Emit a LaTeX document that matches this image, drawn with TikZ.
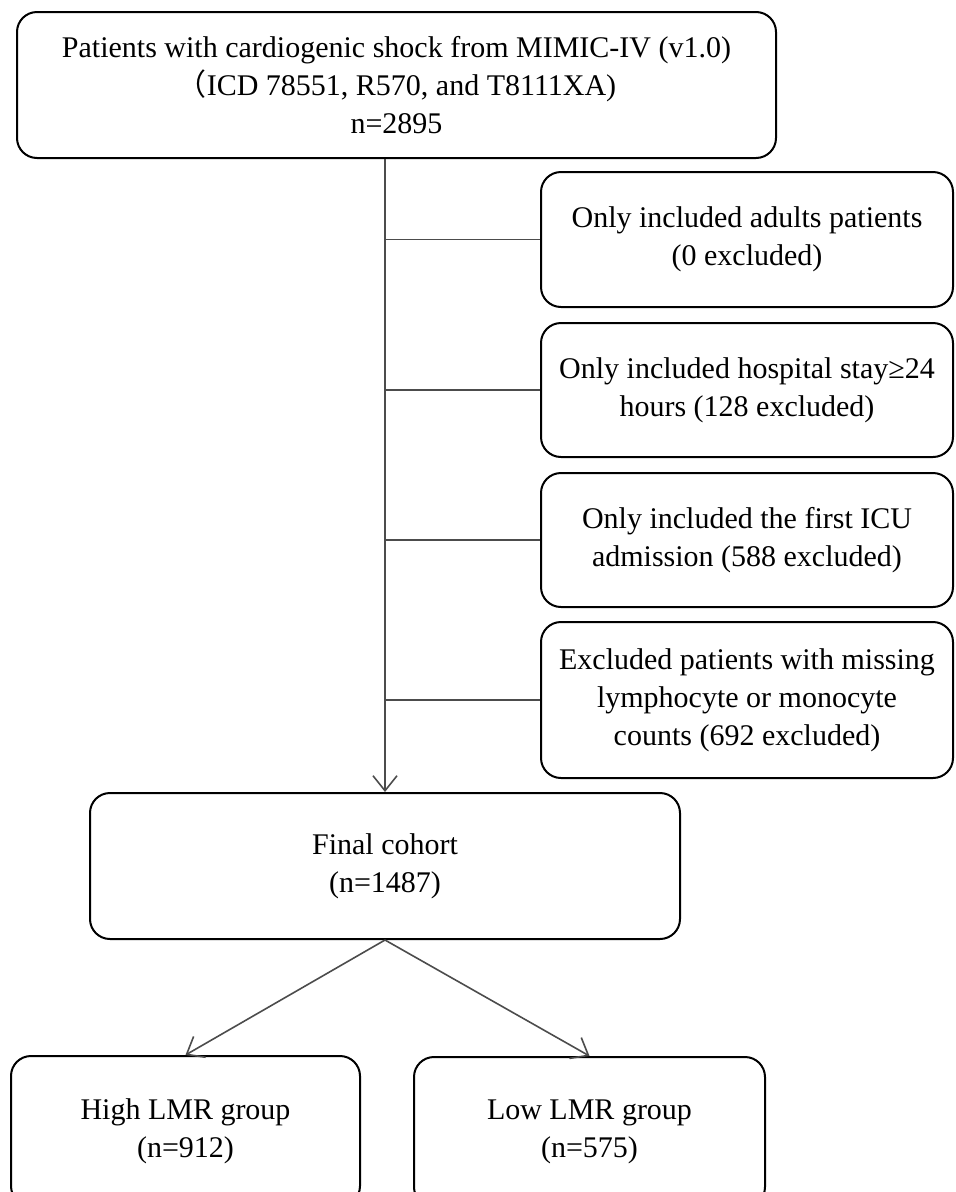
\documentclass[tikz,border=0pt]{standalone}
\usepackage{fontspec}
\setmainfont{Liberation Serif}
\newfontfamily\cjk{Noto Sans CJK SC}
\usetikzlibrary{arrows.meta}
\begin{document}
\begin{tikzpicture}[x=1pt,y=-1pt,
  flowbox/.style={draw=black,line width=2pt,rounded corners=20pt,align=center,
    font=\fontsize{30}{38}\selectfont,inner sep=0pt},
  conn/.style={draw=black!70,line width=1.6pt},
  arr/.style={conn,-{Straight Barb[length=15pt,width=24pt,line width=1.6pt]}}]
\useasboundingbox (0,0) rectangle (956,1192);
\clip (0,0) rectangle (956,1192);
\node[flowbox,minimum width=759pt,minimum height=146pt] (top) at (396.5,85)
  {Patients with cardiogenic shock from MIMIC-IV (v1.0)\\{\cjk （}ICD 78551, R570, and T8111XA)\\n=2895};
\node[flowbox,minimum width=412pt,minimum height=135pt] (b1) at (747,239.5)
  {Only included adults patients\\(0 excluded)};
\node[flowbox,minimum width=412pt,minimum height=134pt] (b2) at (747,390)
  {Only included hospital stay≥24\\hours (128 excluded)};
\node[flowbox,minimum width=412pt,minimum height=134pt] (b3) at (747,540)
  {Only included the first ICU\\admission (588 excluded)};
\node[flowbox,minimum width=412pt,minimum height=156pt] (b4) at (747,700)
  {Excluded patients with missing\\lymphocyte or monocyte\\counts (692 excluded)};
\node[flowbox,minimum width=590pt,minimum height=146pt] (final) at (385,866)
  {Final cohort\\(n=1487)};
\node[flowbox,minimum width=349pt,minimum height=150pt] (high) at (185.5,1131)
  {High LMR group\\(n=912)};
\node[flowbox,minimum width=351pt,minimum height=150pt] (low) at (589.5,1132)
  {Low LMR group\\(n=575)};
\draw[arr] (final.north |- top.south) -- (final.north);
\draw[conn] (final.north |- b1.west) -- (b1.west);
\draw[conn] (final.north |- b2.west) -- (b2.west);
\draw[conn] (final.north |- b3.west) -- (b3.west);
\draw[conn] (final.north |- b4.west) -- (b4.west);
\draw[arr] (final.south) -- (high.north);
\draw[arr] (final.south) -- (low.north);
\end{tikzpicture}
\end{document}
